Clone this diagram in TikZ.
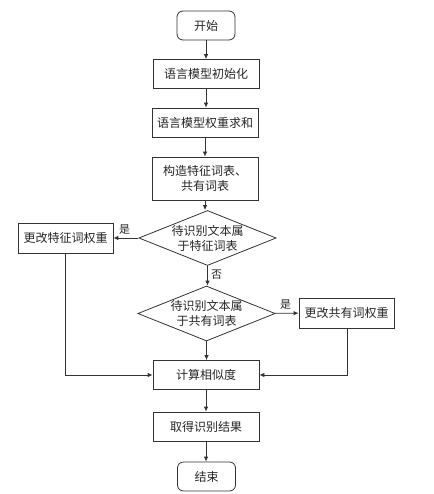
\documentclass[tikz,border=0pt]{standalone}
\usepackage{fontspec}
\setmainfont{Noto Sans CJK SC}
\usetikzlibrary{shapes.geometric,arrows.meta}
\begin{document}
\begin{tikzpicture}[x=1pt,y=-1pt,
  every node/.style={font=\fontsize{12}{15}\selectfont, text=black!85},
  proc/.style={draw=black!80, line width=0.8pt, minimum width=106pt, minimum height=29pt, inner sep=1pt, align=center},
  term/.style={draw=black!80, line width=0.8pt, rounded corners=6pt, minimum width=58pt, minimum height=29pt},
  decide/.style={draw=black!80, line width=0.8pt, diamond, aspect=2.5, minimum width=134pt, minimum height=55pt, inner sep=0pt, align=center},
  side/.style={draw=black!80, line width=0.8pt, minimum width=95pt, minimum height=30pt, inner sep=1pt},
  arr/.style={draw=black!80, line width=0.8pt, -{Latex[length=5pt,width=4.5pt]}},
  lbl/.style={font=\fontsize{11}{13}\selectfont}
]
\useasboundingbox (0,0) rectangle (433,494);
\node[term] (start) at (206,25.5) {开始};
\node[proc] (init) at (206,74) {语言模型初始化};
\node[proc] (sum) at (205,122.5) {语言模型权重求和};
\node[proc, minimum height=43pt] (build) at (205,178.5) {构造特征词表、\\共有词表};
\node[decide] (d1) at (207.5,238) {待识别文本属\\于特征词表};
\node[side] (lbox) at (65.5,238) {更改特征词权重};
\node[decide] (d2) at (206.5,313.5) {待识别文本属\\于共有词表};
\node[side] (rbox) at (346.5,313) {更改共有词权重};
\node[proc] (calc) at (206,375) {计算相似度};
\node[proc] (res) at (206,426.5) {取得识别结果};
\node[term] (stop) at (206.5,476.5) {结束};
\coordinate (lc) at (65,375);
\coordinate (rc) at (347,375);

\draw[arr] (start) -- (init);
\draw[arr] (init) -- (init|-sum.north);
\draw[arr] (sum) -- (sum|-build.north);
\draw[arr] (build) -- (build|-d1.north);
\draw[arr] (d1) -- node[lbl, above, pos=0.55] {是} (lbox);
\draw[arr] (d1.south) -- node[lbl, right, pos=0.45] {否} (d1.south|-d2.north);
\draw[arr] (d2) -- node[lbl, above, pos=0.45] {是} (rbox);
\draw[arr] (d2.south) -- (d2.south|-calc.north);
\draw[arr] (lbox.south-|lc) -- (lc) -- (calc.west);
\draw[arr] (rbox.south-|rc) -- (rc) -- (calc.east);
\draw[arr] (calc) -- (res);
\draw[arr] (res) -- (res|-stop.north);
\end{tikzpicture}
\end{document}
